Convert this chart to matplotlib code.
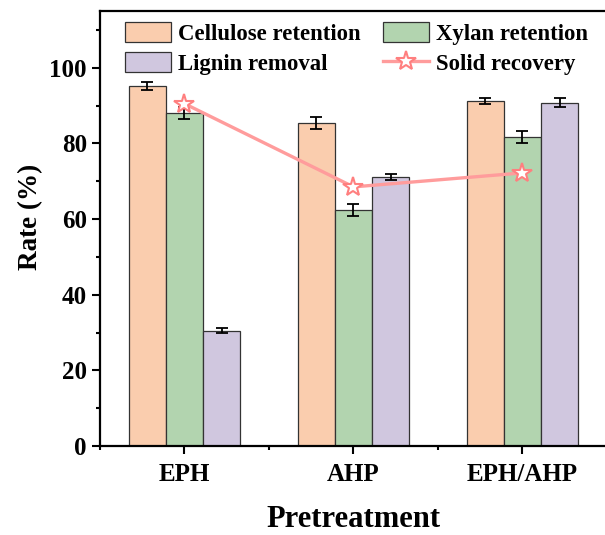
import numpy as np
import matplotlib
matplotlib.use("Agg")
from matplotlib import pyplot as plt
from matplotlib.ticker import MultipleLocator

# data
groups = ["EPH", "AHP", "EPH/AHP"]
cellulose = [95.2, 85.3, 91.3]
cellulose_err = [1.0, 1.6, 0.8]
xylan = [88.1, 62.4, 81.7]
xylan_err = [1.6, 1.6, 1.7]
lignin = [30.5, 71.0, 90.8]
lignin_err = [0.7, 0.8, 1.3]
solid = [90.5, 68.5, 72.2]

plt.rcParams["font.family"] = ["Liberation Serif", "DejaVu Serif"]
plt.rcParams["font.weight"] = "bold"

fig = plt.figure(figsize=(6.05, 5.35), dpi=100)
ax = fig.add_axes([100 / 605, 89 / 535, 507 / 605, 435 / 535])

x = np.arange(len(groups))
w = 0.219
err_kw = dict(ecolor="black", elinewidth=1.3, capsize=4, capthick=1.3)

b1 = ax.bar(x - w, cellulose, w, yerr=cellulose_err, color="#FACDAE",
            edgecolor="#333333", linewidth=0.9, error_kw=err_kw,
            label="Cellulose retention")
b2 = ax.bar(x, xylan, w, yerr=xylan_err, color="#B2D4AF",
            edgecolor="#333333", linewidth=0.9, error_kw=err_kw,
            label="Xylan retention")
b3 = ax.bar(x + w, lignin, w, yerr=lignin_err, color="#D0C7DF",
            edgecolor="#333333", linewidth=0.9, error_kw=err_kw,
            label="Lignin removal")
ln, = ax.plot(x, solid, color="#FF9C9C", linewidth=2.4, marker="*",
              markersize=15, markerfacecolor="white",
              markeredgecolor="#FF7F7F", markeredgewidth=1.5,
              label="Solid recovery", zorder=5)

ax.set_xlim(-0.5, 2.5)
ax.set_ylim(0, 115)
ax.set_xticks(x)
ax.set_xticklabels(groups)
ax.xaxis.set_minor_locator(MultipleLocator(0.5))
ax.yaxis.set_major_locator(MultipleLocator(20))
ax.yaxis.set_minor_locator(MultipleLocator(10))
ax.tick_params(axis="both", which="major", direction="out", length=6,
               width=1.5, labelsize=18)
ax.tick_params(axis="x", which="major", pad=6)
ax.tick_params(axis="both", which="minor", direction="out", length=3,
               width=1.5)
for s in ax.spines.values():
    s.set_linewidth(1.6)

ax.set_xlabel("Pretreatment", fontsize=22, fontweight="bold", labelpad=14)
ax.set_ylabel("Rate (%)", fontsize=19.5, fontweight="bold")
ax.yaxis.set_label_coords(-0.112, 0.526)

ax.legend([b1, b3, b2, ln],
          ["Cellulose retention", "Lignin removal", "Xylan retention",
           "Solid recovery"],
          ncol=2, loc="upper left", bbox_to_anchor=(0.05, 0.975),
          frameon=False, fontsize=16.4, handlelength=2.0, handleheight=1.0,
          handletextpad=0.3, columnspacing=1.0, labelspacing=0.3,
          borderpad=0, borderaxespad=0)

fig.savefig("out.png", dpi=100)
